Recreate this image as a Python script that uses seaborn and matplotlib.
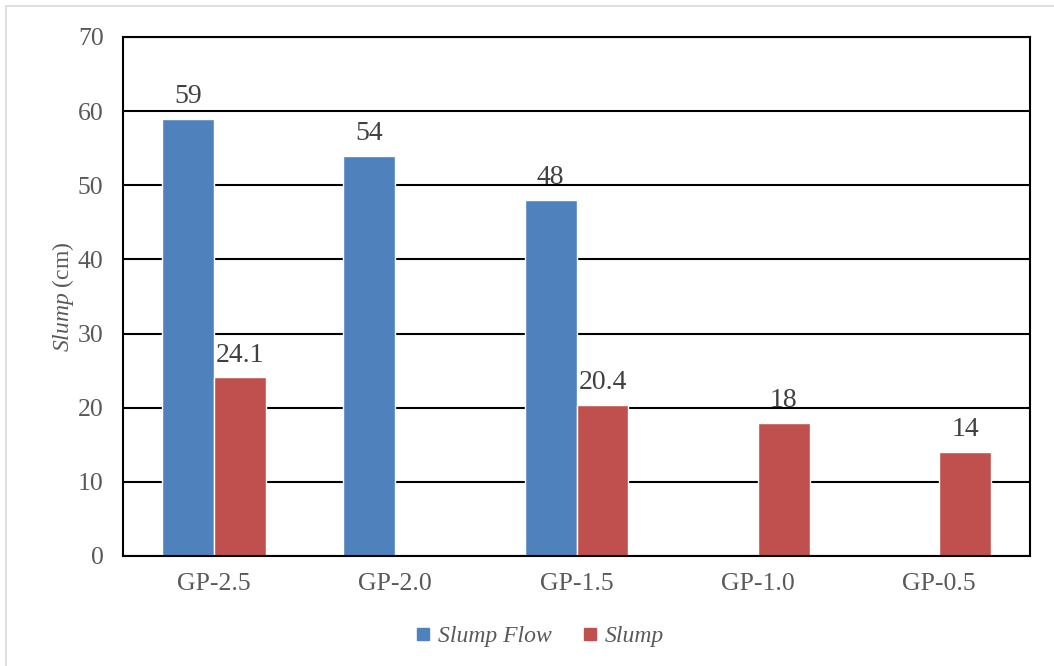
import matplotlib
matplotlib.use("Agg")
import matplotlib.pyplot as plt
import seaborn as sns
import pandas as pd
from matplotlib.patches import Rectangle
from matplotlib.lines import Line2D

# Mix designs and measured workability
mixes = ["GP-2.5", "GP-2.0", "GP-1.5", "GP-1.0", "GP-0.5"]
slump_flow = [59, 54, 48, None, None]
slump = [24.1, None, 20.4, 18, 14]
series_names = ["Slump Flow", "Slump"]
y_ticks = [0, 10, 20, 30, 40, 50, 60, 70]

blue = "#4F81BD"
red = "#C0504D"
text_gray = "#595959"

sns.set_theme(style="white")
plt.rcParams["font.family"] = ["Liberation Serif", "DejaVu Serif"]
plt.rcParams["mathtext.fontset"] = "custom"
plt.rcParams["mathtext.rm"] = "Liberation Serif"
plt.rcParams["mathtext.it"] = "Liberation Serif:italic"

rows = []
for m, a, b in zip(mixes, slump_flow, slump):
    if a is not None:
        rows.append({"mix": m, "series": series_names[0], "value": a})
    if b is not None:
        rows.append({"mix": m, "series": series_names[1], "value": b})
df = pd.DataFrame(rows)

fig = plt.figure(figsize=(10.54, 6.66), dpi=100)
ax = fig.add_axes([123 / 1054, 1 - 556 / 666, 907 / 1054, 519 / 666])

sns.barplot(data=df, x="mix", y="value", hue="series", order=mixes,
            hue_order=series_names, palette=[blue, red], width=0.573,
            gap=0, dodge=True, ax=ax, legend=False, saturation=1)

ax.set_ylim(0, 70)
ax.set_yticks(y_ticks)
ax.set_xlim(-0.5, len(mixes) - 0.5)
ax.yaxis.grid(True, color="black", linewidth=1.5)
ax.set_axisbelow(True)
for s in ax.spines.values():
    s.set_color("black")
    s.set_linewidth(1.5)
ax.tick_params(axis="both", length=0, labelsize=18.5, labelcolor=text_gray)
ax.tick_params(axis="x", pad=12)
ax.tick_params(axis="y", pad=14)
ax.set_xlabel("")
ax.set_ylabel(r"$\mathit{Slump}$ (cm)", fontsize=17, color=text_gray, labelpad=1)

# value labels above each bar
for container in ax.containers:
    for bar in container:
        h = bar.get_height()
        if h is None or h != h or h == 0:
            continue
        txt = f"{h:g}"
        ax.annotate(txt, (bar.get_x() + bar.get_width() / 2, h),
                    xytext=(0, 7), textcoords="offset points",
                    ha="center", va="bottom", fontsize=20, color="#404040")

handles = [Line2D([], [], marker="s", linestyle="", markersize=8,
                  markerfacecolor=c, markeredgecolor=c) for c in (blue, red)]
leg = fig.legend(handles, series_names, loc="center", ncol=2,
                 bbox_to_anchor=(540 / 1054, 1 - 636 / 666), frameon=False,
                 prop={"style": "italic", "size": 17}, handlelength=0.6,
                 handletextpad=0.35, columnspacing=1.3)
for t in leg.get_texts():
    t.set_color(text_gray)

fig.patches.append(Rectangle((6 / 1054, -0.05), 1.2, 1 - 6 / 666 + 0.05,
                             transform=fig.transFigure, fill=False,
                             edgecolor="#d9d9d9", linewidth=1.2))

fig.savefig("out.png", dpi=100)
